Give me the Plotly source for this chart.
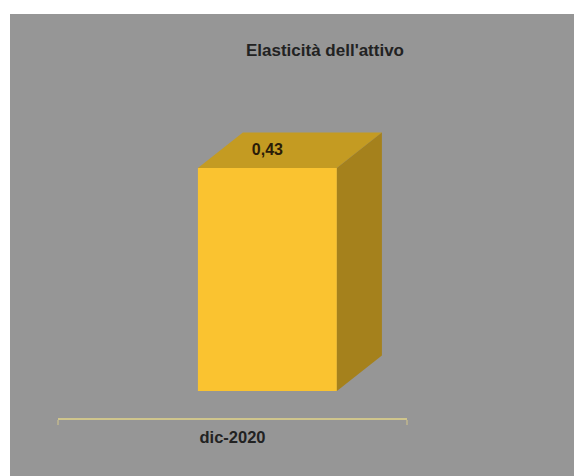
import plotly.graph_objects as go

categories = ["dic-2020"]
values = [0.43]
value_labels = ["0,43"]
title_text = "Elasticità dell'attivo"

W, H = 574, 476
L, R, T, B = 58, 407, 14, 418
FONT = "Liberation Sans"
GRAY = "#969696"
FRONT = "#fac330"
TOP = "#c49b22"
SIDE = "#a5811c"

bar_x = 0.1          # bar centre on the category band
bar_w = 139 / (R - L)
depth_x = 45 / (R - L)
px_per_unit = 223 / values[0]
depth_y = 35.5 / px_per_unit
y_min = -(B - 391) / px_per_unit
y_max = (391 - T) / px_per_unit

v = values[0]
x0, x1 = bar_x - bar_w / 2, bar_x + bar_w / 2

fig = go.Figure()
fig.add_trace(go.Scatter(
    x=[x0, x1, x1 + depth_x, x0 + depth_x, x0],
    y=[v, v, v + depth_y, v + depth_y, v],
    mode="lines", fill="toself", fillcolor=TOP, line=dict(width=0), hoverinfo="skip"))
fig.add_trace(go.Scatter(
    x=[x1, x1 + depth_x, x1 + depth_x, x1, x1],
    y=[0, depth_y, v + depth_y, v, 0],
    mode="lines", fill="toself", fillcolor=SIDE, line=dict(width=0), hoverinfo="skip"))
fig.add_trace(go.Bar(x=[bar_x], y=values, width=[bar_w], marker=dict(color=FRONT, line=dict(width=0))))
fig.add_trace(go.Scatter(
    x=[bar_x], y=[v + depth_y / 2 - 0.002], text=value_labels, mode="text",
    textfont=dict(family=FONT, size=16, color="#2a1c08", weight="bold"), textposition="middle center"))

fig.update_layout(
    width=W, height=H, autosize=False, showlegend=False,
    margin=dict(l=L, r=W - R, t=T, b=H - B, pad=0),
    paper_bgcolor="white", plot_bgcolor=GRAY,
    title=dict(text=title_text, x=(325 - L) / (R - L), xref="paper", xanchor="center",
               y=1 - 50 / H, yref="container", yanchor="middle",
               font=dict(family=FONT, size=17, color="#222222", weight="bold")),
    shapes=[dict(type="rect", xref="paper", yref="paper", layer="below", line=dict(width=0),
                 fillcolor=GRAY,
                 x0=(10 - L) / (R - L), x1=(W + 5 - L) / (R - L),
                 y0=-(H + 5 - B) / (B - T), y1=1)],
    xaxis=dict(range=[-0.5, 0.5], tickmode="array", tickvals=[0], ticktext=categories,
               ticks="", showgrid=False, zeroline=False, showline=True,
               linecolor="#cfc58c", linewidth=2, ticklabelstandoff=3,
               tickfont=dict(family=FONT, size=16.5, color="#222222", weight="bold"),
               minor=dict(tickmode="array", tickvals=[-0.5, 0.5], ticks="outside",
                          ticklen=5, tickwidth=2, tickcolor="#b5ae90", showgrid=False)),
    yaxis=dict(range=[y_min, y_max], visible=False),
)
fig.write_html("out.html", config={"displayModeBar": False},
               post_script="document.body.style.margin='0';document.documentElement.style.overflow='hidden';")
